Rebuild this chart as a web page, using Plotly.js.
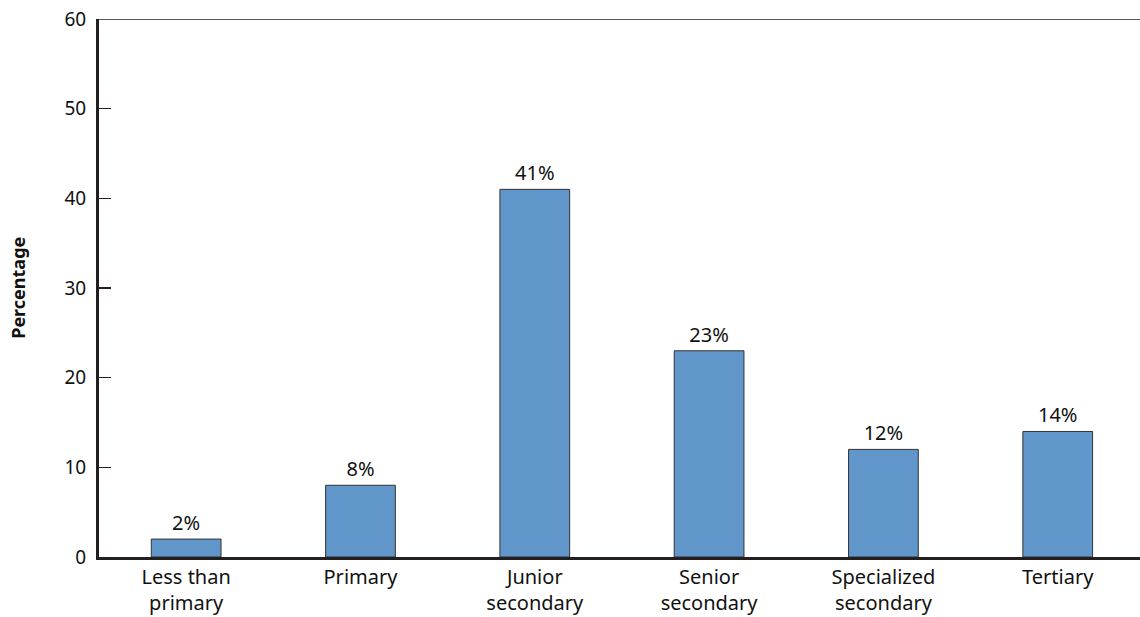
<!DOCTYPE html>
<html>
<head>
<meta charset="utf-8">
<script src="https://cdn.plot.ly/plotly-3.0.1.min.js"></script>
<style>html,body{margin:0;padding:0;background:#fff;}#chart{width:1140px;height:617px;}</style>
</head>
<body>
<div id="chart"></div>
<script>
const categories = ["Less than<br>primary", "Primary", "Junior<br>secondary", "Senior<br>secondary", "Specialized<br>secondary", "Tertiary"];
const values = [2, 8, 41, 23, 12, 14];
const yTicks = [0, 10, 20, 30, 40, 50, 60];

const trace = {
  type: 'bar',
  x: categories,
  y: values,
  width: 0.4,
  marker: {color: '#6096C9', line: {color: '#333333', width: 1}},
  texttemplate: '%{y}%',
  textposition: 'outside',
  textfont: {family: 'Noto Sans, sans-serif', size: 20, color: '#111'},
  cliponaxis: false,
  hoverinfo: 'skip'
};

const layout = {
  width: 1140, height: 617,
  margin: {l: 99, r: 0, t: 19, b: 60},
  paper_bgcolor: '#fff', plot_bgcolor: '#fff',
  font: {family: 'Noto Sans, sans-serif', size: 19, color: '#111'},
  showlegend: false,
  bargap: 0.6,
  xaxis: {
    type: 'category',
    range: [-0.5, 5.472],
    showgrid: false, zeroline: false,
    showline: true, linecolor: '#231f20', linewidth: 3,
    ticks: '', tickfont: {size: 20, color: '#111'},
    automargin: false
  },
  yaxis: {
    range: [0, 60],
    tickvals: yTicks,
    showgrid: false, zeroline: false,
    showline: true, linecolor: '#231f20', linewidth: 3,
    ticks: 'inside', ticklen: 12, tickwidth: 1.5, tickcolor: '#231f20',
    ticklabelstandoff: 6,
    tickfont: {size: 19, color: '#111'},
    automargin: false
  },
  shapes: [{
    type: 'line', xref: 'paper', yref: 'y', x0: 0, x1: 1, y0: 60, y1: 60,
    line: {color: '#231f20', width: 1.5}
  }],
  annotations: [{
    text: '<b>Percentage</b>', textangle: -90,
    xref: 'paper', yref: 'paper', x: -0.078, y: 0.5,
    xanchor: 'center', yanchor: 'middle', showarrow: false,
    font: {size: 18, color: '#111'}
  }]
};

Plotly.newPlot('chart', [trace], layout, {displayModeBar: false, staticPlot: true});
</script>
</body>
</html>
